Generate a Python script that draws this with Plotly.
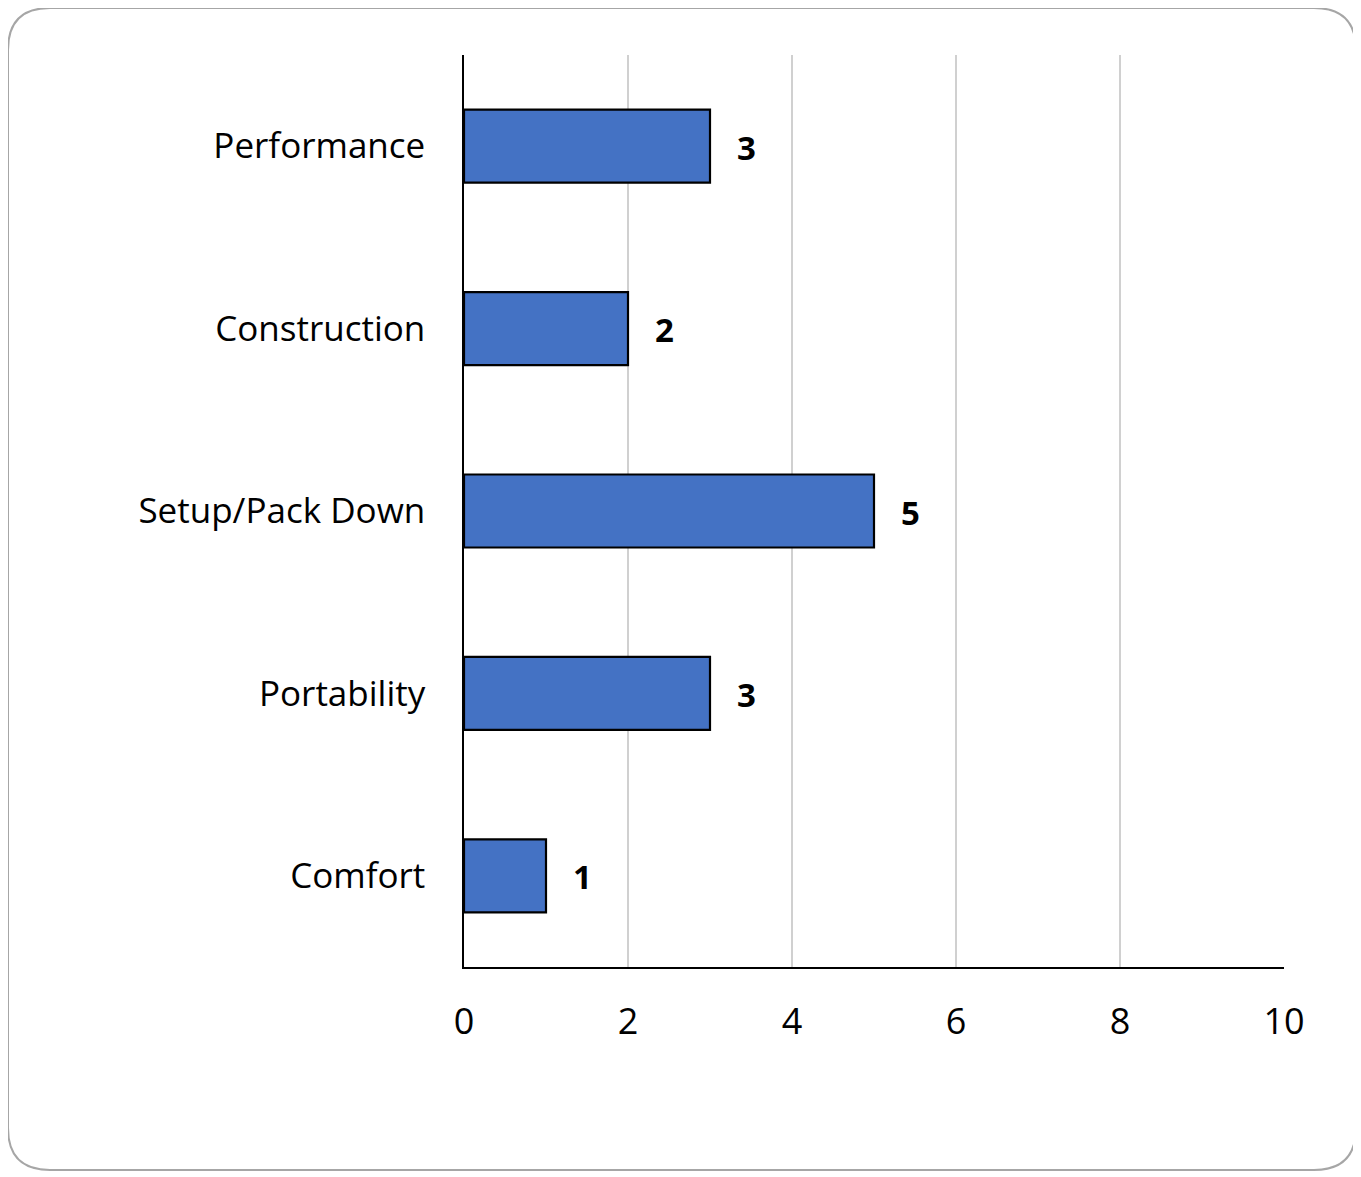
import plotly.graph_objects as go

categories = ["Performance", "Construction", "Setup/Pack Down", "Portability", "Comfort"]
counts = [3, 2, 5, 3, 1]
x_ticks = [0, 2, 4, 6, 8, 10]

# page puts the figure 8px in from the window corner
OFF = 8
W, H = 1361 - OFF, 1177 - OFF
L, R, T, B = 464 - OFF, 1284 - OFF, 55 - OFF, 967 - OFF
font_family = "Open Sans"

fig = go.Figure()

fig.add_trace(go.Bar(
    x=counts,
    y=categories,
    orientation="h",
    marker=dict(color="#4472C4", line=dict(color="black", width=2.2)),
    hoverinfo="x+y",
))

# value labels right of each bar
for cat, val in zip(categories, counts):
    fig.add_annotation(
        x=val, y=cat, xref="x", yref="y",
        text=f"<b>{val}</b>",
        showarrow=False,
        xanchor="left",
        xshift=25,
        yshift=-1,
        font=dict(family=font_family, size=33, color="black"),
    )


def px(x):
    return (x - L) / (R - L)


def py(y):
    return (B - y) / (B - T)


# rounded border round the whole figure
x0, x1 = px(0), px(W - 5)
y0, y1 = py(0), py(1162)
rx, ry = 42 / (R - L), 42 / (B - T)
path = (
    f"M {x0 + rx},{y0} L {x1 - rx},{y0} Q {x1},{y0} {x1},{y0 - ry} "
    f"L {x1},{y1 + ry} Q {x1},{y1} {x1 - rx},{y1} "
    f"L {x0 + rx},{y1} Q {x0},{y1} {x0},{y1 + ry} "
    f"L {x0},{y0 - ry} Q {x0},{y0} {x0 + rx},{y0} Z"
)
fig.add_shape(type="path", path=path, xref="paper", yref="paper",
              line=dict(color="#a6a6a6", width=2), layer="below")

fig.update_layout(
    width=W,
    height=H,
    autosize=False,
    margin=dict(l=L, r=W - R, t=T, b=H - B),
    plot_bgcolor="white",
    paper_bgcolor="white",
    bargap=0.6,
    showlegend=False,
    font=dict(family=font_family, size=36, color="black"),
    xaxis=dict(
        range=[0, 10],
        tickvals=x_ticks,
        showgrid=True,
        gridcolor="#d0d0d0",
        gridwidth=1.5,
        zeroline=False,
        showline=True,
        linecolor="black",
        linewidth=1.5,
        ticks="",
        ticklabelstandoff=22,
        tickfont=dict(family=font_family, size=36, color="black"),
    ),
    yaxis=dict(
        autorange="reversed",
        showgrid=False,
        zeroline=False,
        showline=True,
        linecolor="black",
        linewidth=1.5,
        ticks="",
        ticklabelstandoff=30,
        tickfont=dict(family=font_family, size=35, color="black"),
    ),
)

fig.write_html("out.html")
